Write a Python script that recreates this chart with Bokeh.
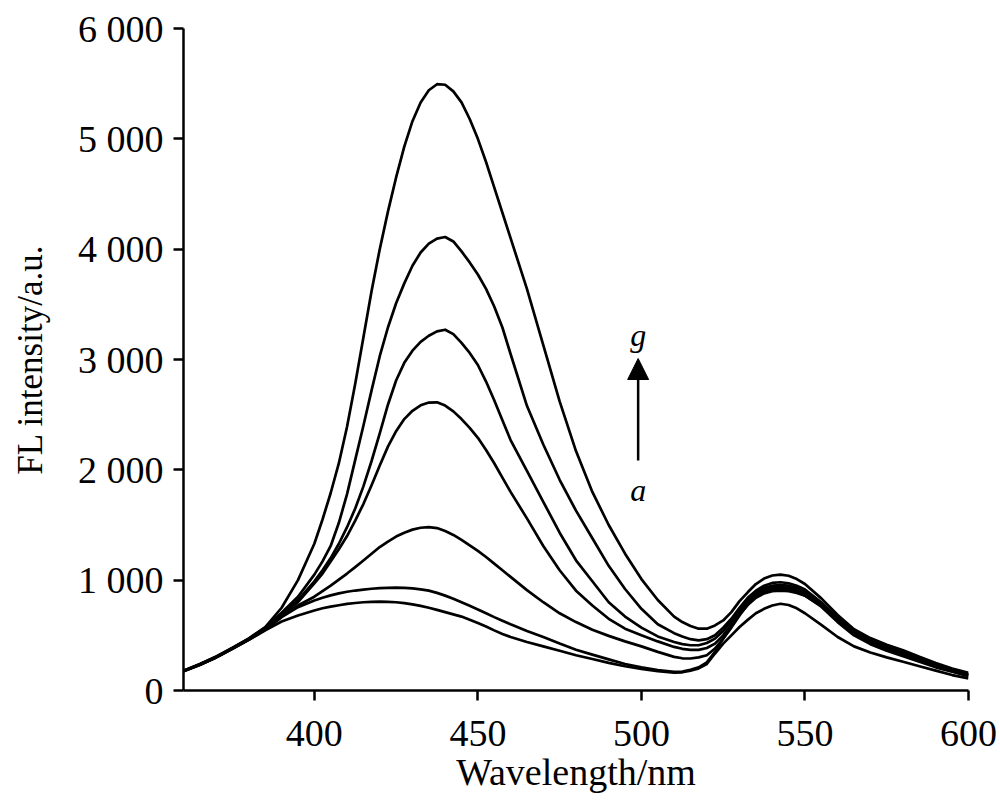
from bokeh.plotting import figure
from bokeh.models import Arrow, NormalHead, Label, FixedTicker, Range1d
from bokeh.embed import file_html
from bokeh.resources import INLINE

# ---- data ----
wavelength = [360, 365, 370, 375, 380, 385, 390, 395,
              400, 402.5, 405, 407.5, 410, 412.5, 415, 417.5, 420, 422.5, 425, 427.5, 430,
              432.5, 435, 437.5, 440, 442.5, 445, 447.5, 450, 452.5, 455, 457.5, 460,
              465, 470, 475, 480, 485, 490, 495, 500, 505,
              510, 512.5, 515, 517.5, 520, 522.5, 525, 527.5, 530, 532.5, 535, 537.5, 540,
              542.5, 545, 547.5, 550,
              555, 560, 565, 570, 575, 580, 585, 590, 595, 600]

curve_a = [174, 232, 299, 378, 460, 545, 625, 680,
           725, 745, 760, 773, 785, 793, 800, 803, 805, 803, 800, 792, 780, 767, 750, 731,
           710, 690, 670, 642, 612, 580, 545, 513, 485,
           440, 400, 360, 320, 285, 250, 220, 195, 175,
           162, 165, 180, 200, 240, 335, 425, 500, 575, 640, 700, 740, 770, 786, 775, 745, 700,
           595, 485, 400, 345, 300, 260, 220, 180, 140, 110]
curve_b = [175, 233, 300, 380, 462, 550, 665, 755,
           815, 840, 862, 880, 895, 906, 915, 922, 928, 931, 932, 931, 925, 917, 905, 885,
           860, 832, 800, 768, 735, 700, 665, 632, 600,
           540, 485, 425, 370, 325, 282, 240, 210, 185,
           168, 172, 188, 210, 255, 350, 470, 585, 690, 775, 840, 880, 900, 905, 900, 885, 860,
           760, 620, 500, 420, 360, 310, 260, 210, 170, 130]
curve_c = [176, 234, 302, 382, 464, 555, 670, 770,
           850, 900, 950, 1005, 1060, 1118, 1178, 1240, 1300, 1350, 1395, 1430, 1458, 1475,
           1480, 1472, 1445, 1410, 1365, 1315, 1265, 1210, 1150, 1090, 1030,
           910, 800, 700, 620, 550, 495, 445, 400, 350,
           305, 292, 290, 300, 320, 380, 470, 570, 680, 780, 850, 895, 918, 922, 915, 895, 860,
           770, 630, 510, 430, 370, 320, 270, 215, 175, 135]
curve_d = [176, 235, 303, 383, 466, 560, 680, 800,
           970, 1060, 1170, 1280, 1400, 1540, 1690, 1860, 2040, 2210, 2350, 2460, 2535, 2585,
           2610, 2612, 2582, 2530, 2460, 2380, 2290, 2180, 2060, 1930, 1800,
           1560, 1310, 1090, 905, 770, 650, 560, 500, 445,
           395, 378, 368, 368, 385, 425, 500, 600, 710, 800, 870, 915, 935, 938, 930, 910, 875,
           780, 640, 520, 440, 380, 330, 275, 220, 180, 140]
curve_e = [177, 236, 304, 384, 468, 565, 690, 820,
           990, 1090, 1200, 1330, 1480, 1650, 1850, 2080, 2330, 2590, 2810, 2970, 3080, 3160,
           3215, 3255, 3270, 3230, 3150, 3060, 2950, 2800, 2630, 2450, 2270,
           1990, 1710, 1430, 1180, 990, 800, 670, 570, 490,
           440, 420, 410, 410, 430, 470, 540, 630, 730, 820, 885, 930, 950, 955, 950, 930, 895,
           790, 650, 530, 450, 390, 340, 280, 225, 180, 145]
curve_f = [178, 238, 305, 385, 470, 570, 705, 850,
           1050, 1170, 1310, 1520, 1780, 2090, 2400, 2720, 3030, 3290, 3510, 3690, 3850, 3970,
           4050, 4095, 4110, 4070, 3980, 3880, 3770, 3640, 3480, 3290, 3050,
           2580, 2230, 1910, 1630, 1380, 1130, 920, 740, 600,
           520, 490, 465, 455, 465, 500, 570, 650, 750, 840, 905, 950, 975, 981, 972, 950, 915,
           800, 660, 540, 455, 395, 345, 290, 235, 190, 150]
curve_g = [180, 240, 308, 388, 472, 575, 750, 1000,
           1330, 1550, 1790, 2060, 2390, 2780, 3200, 3620, 4000, 4340, 4650, 4930, 5160, 5330,
           5440, 5495, 5490, 5430, 5330, 5180, 5000, 4790, 4560, 4330, 4100,
           3640, 3130, 2620, 2170, 1800, 1500, 1240, 1010, 820,
           670, 620, 585, 560, 560, 590, 635, 710, 810, 890, 965, 1015, 1042, 1051, 1040, 1010, 965,
           835, 685, 555, 475, 415, 365, 305, 250, 200, 160]

x_ticks = [400, 450, 500, 550, 600]
y_ticks = [0, 1000, 2000, 3000, 4000, 5000, 6000]
y_tick_labels = ["0", "1 000", "2 000", "3 000", "4 000", "5 000", "6 000"]
x_title = "Wavelength/nm"
y_title = "FL intensity/a.u."
first_label = "a"
last_label = "g"

FONT = "Liberation Serif"

p = figure(width=1000, height=797, output_backend="svg", toolbar_location=None,
           x_range=Range1d(360, 600), y_range=Range1d(0, 6000),
           min_border_left=183, min_border_right=32, min_border_top=28,
           min_border_bottom=107)
p.outline_line_color = None
p.grid.visible = False
p.background_fill_color = "white"
p.border_fill_color = "white"

for series in [curve_a, curve_b, curve_c, curve_d, curve_e, curve_f, curve_g]:
    p.line(wavelength, series, line_color="black", line_width=2.7, line_join="round")

for ax in (p.xaxis[0], p.yaxis[0]):
    ax.axis_line_width = 2.5
    ax.axis_line_color = "black"
    ax.major_tick_line_width = 2.5
    ax.major_tick_line_color = "black"
    ax.major_tick_in = 0
    ax.major_tick_out = 10
    ax.minor_tick_line_color = None
    ax.major_label_text_font = FONT
    ax.major_label_text_font_size = "38px"
    ax.major_label_text_color = "black"
    ax.axis_label_text_font = FONT
    ax.axis_label_text_font_style = "normal"
    ax.axis_label_text_color = "black"

p.xaxis.ticker = FixedTicker(ticks=x_ticks)
p.yaxis.ticker = FixedTicker(ticks=y_ticks)
p.yaxis.major_label_overrides = {t: lab for t, lab in zip(y_ticks, y_tick_labels)}
p.xaxis.major_label_standoff = 20
p.yaxis.major_label_standoff = 10
p.xaxis.axis_label = x_title
p.yaxis.axis_label = y_title
p.xaxis.axis_label_text_font_size = "38px"
p.yaxis.axis_label_text_font_size = "35px"
p.xaxis.axis_label_standoff = 2
p.yaxis.axis_label_standoff = 25

p.add_layout(Arrow(end=NormalHead(size=21, fill_color="black", line_color="black", line_width=1),
                   x_start=499, y_start=2085, x_end=499, y_end=3009,
                   line_width=2.5, line_color="black"))
p.add_layout(Label(x=499, y=3218, text=last_label, text_font=FONT, text_font_style="italic",
                   text_font_size="32px", text_align="center", text_baseline="alphabetic",
                   text_color="black"))
p.add_layout(Label(x=499, y=1813, text=first_label, text_font=FONT, text_font_style="italic",
                   text_font_size="32px", text_align="center", text_baseline="alphabetic",
                   text_color="black"))

open("out.html", "w").write(file_html(p, INLINE))
